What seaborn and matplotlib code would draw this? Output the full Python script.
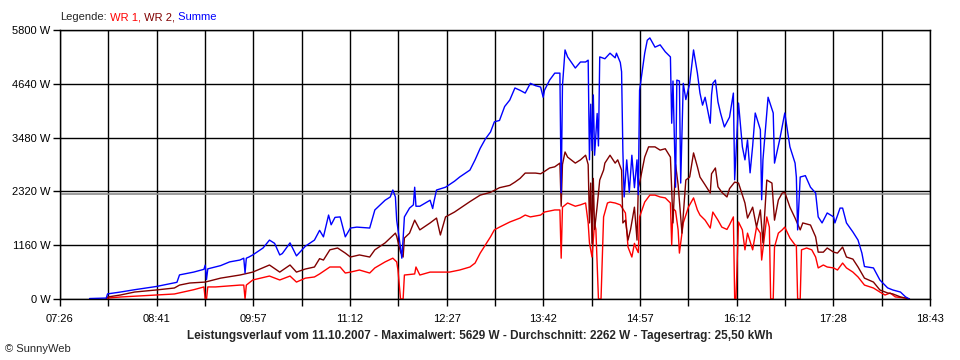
import numpy as np
import pandas as pd
import matplotlib
matplotlib.use("Agg")
import matplotlib.pyplot as plt
import seaborn as sns

# Leistungsverlauf 11.10.2007, Werte (W)
wr1_time = ["08:02", "08:03", "08:13", "08:41", "08:55", "09:10", "09:18", "09:19", "09:20", "09:21",
            "09:27", "09:46", "09:49", "09:50", "09:51", "09:56", "10:09", "10:17", "10:25", "10:30",
            "10:37", "10:44", "10:48", "10:56", "11:04", "11:08", "11:12", "11:19", "11:27", "11:31",
            "11:39", "11:45", "11:48", "11:49", "11:51", "11:53", "11:54", "12:02", "12:03", "12:06",
            "12:14", "12:29", "12:37", "12:45", "12:49", "12:53", "12:57", "13:01", "13:04", "13:08",
            "13:16", "13:24", "13:28", "13:32", "13:40", "13:43", "13:51", "13:55", "13:56", "13:57",
            "14:01", "14:07", "14:11", "14:15", "14:17", "14:18", "14:20", "14:22", "14:23", "14:25",
            "14:27", "14:29", "14:32", "14:34", "14:38", "14:42", "14:46", "14:48", "14:51", "14:53",
            "14:54", "14:56", "14:57", "15:01", "15:05", "15:09", "15:13", "15:17", "15:21", "15:22",
            "15:23", "15:25", "15:27", "15:28", "15:31", "15:35", "15:39", "15:42", "15:44", "15:48",
            "15:52", "15:54", "15:58", "16:01", "16:05", "16:07", "16:10", "16:11", "16:12", "16:14",
            "16:17", "16:19", "16:21", "16:25", "16:28", "16:31", "16:32", "16:36", "16:38", "16:39",
            "16:41", "16:42", "16:45", "16:48", "16:50", "16:54", "16:58", "16:59", "17:00", "17:02",
            "17:03", "17:07", "17:11", "17:14", "17:16", "17:20", "17:23", "17:28", "17:31", "17:35",
            "17:38", "17:43", "17:47", "17:52", "17:59", "18:04", "18:08", "18:12", "18:16", "18:24",
            "18:27"]
wr1_watt = [5, 20, 43, 86, 108, 200, 260, 0, 0, 260,
            260, 300, 300, 0, 300, 410, 495, 410, 495, 365,
            450, 475, 540, 690, 690, 560, 580, 625, 560, 670,
            800, 880, 800, 625, 0, 0, 517, 540, 690, 517,
            580, 580, 625, 690, 775, 990, 1165, 1340, 1490, 1550,
            1660, 1745, 1810, 1770, 1810, 1875, 1920, 1920, 880, 1980,
            2070, 2000, 2030, 2070, 1640, 1210, 905, 1640, 1500, 0,
            0, 1770, 2070, 2090, 2070, 2030, 1855, 1120, 905, 1200,
            1120, 1000, 1770, 2090, 2240, 2240, 2200, 2180, 2070, 1165,
            1950, 1900, 1490, 990, 1640, 1980, 2180, 1920, 1810, 1700,
            1530, 1875, 1700, 1550, 1500, 1600, 1770, 0, 0, 1660,
            1490, 1060, 1420, 1060, 1550, 1420, 840, 1770, 1550, 0,
            0, 1120, 1420, 1490, 1550, 1315, 1165, 1150, 0, 0,
            1060, 1100, 1060, 905, 670, 733, 690, 670, 625, 775,
            670, 580, 475, 300, 237, 150, 86, 130, 45, 20,
            0]

wr2_time = ["08:02", "08:03", "08:13", "08:24", "08:41", "08:55", "08:59", "09:07", "09:19", "09:31",
            "09:46", "09:56", "10:09", "10:17", "10:25", "10:30", "10:37", "10:44", "10:48", "10:51",
            "10:56", "11:02", "11:08", "11:12", "11:19", "11:27", "11:31", "11:39", "11:43", "11:47",
            "11:48", "11:51", "11:53", "11:54", "11:58", "12:02", "12:06", "12:14", "12:19", "12:22",
            "12:26", "12:33", "12:45", "12:53", "13:01", "13:08", "13:16", "13:20", "13:24", "13:28",
            "13:36", "13:40", "13:43", "13:47", "13:51", "13:55", "13:56", "13:57", "13:59", "14:01",
            "14:07", "14:11", "14:15", "14:17", "14:18", "14:19", "14:20", "14:21", "14:22", "14:24",
            "14:26", "14:29", "14:30", "14:34", "14:38", "14:40", "14:43", "14:44", "14:46", "14:48",
            "14:50", "14:53", "14:55", "14:56", "14:57", "15:01", "15:04", "15:09", "15:13", "15:17",
            "15:21", "15:23", "15:25", "15:27", "15:30", "15:33", "15:36", "15:39", "15:42", "15:44",
            "15:48", "15:52", "15:53", "15:56", "15:58", "16:01", "16:05", "16:07", "16:11", "16:14",
            "16:17", "16:19", "16:21", "16:25", "16:28", "16:31", "16:33", "16:36", "16:40", "16:42",
            "16:45", "16:48", "16:50", "16:54", "16:58", "17:02", "17:04", "17:10", "17:14", "17:16",
            "17:20", "17:23", "17:28", "17:31", "17:35", "17:38", "17:43", "17:47", "17:52", "17:59",
            "18:04", "18:10", "18:14", "18:20", "18:24", "18:27"]
wr2_watt = [10, 43, 86, 150, 195, 237, 300, 345, 365, 450,
            517, 580, 733, 580, 733, 580, 647, 690, 870, 840,
            1060, 1100, 990, 905, 950, 905, 1060, 1210, 1315, 1420,
            1350, 1010, 905, 1315, 1420, 1700, 1490, 1640, 1745, 1380,
            1770, 1875, 2100, 2240, 2300, 2400, 2450, 2520, 2600, 2715,
            2715, 2700, 2750, 2825, 2850, 2930, 2000, 2900, 3170, 3060,
            2930, 3000, 3100, 2900, 1640, 2500, 1200, 2600, 1500, 2000,
            2565, 2780, 2930, 3100, 2930, 3000, 2780, 1640, 1700, 1270,
            1500, 1980, 1270, 2400, 2500, 3060, 3280, 3280, 3210, 3240,
            3060, 1640, 2900, 2460, 1420, 2565, 2630, 3150, 2850, 2630,
            2460, 2285, 2700, 2825, 2420, 2300, 2200, 2380, 2520, 2500,
            2240, 2070, 1745, 1980, 1550, 1920, 1210, 2565, 2500, 1700,
            2135, 2285, 2300, 1980, 1745, 1490, 1640, 1595, 1340, 1010,
            1010, 1100, 1010, 990, 1120, 905, 860, 690, 450, 365,
            195, 130, 110, 45, 20, 0]

sum_time = ["07:49", "08:02", "08:03", "08:13", "08:24", "08:41", "08:54", "08:57", "08:59", "09:10",
            "09:18", "09:19", "09:20", "09:21", "09:31", "09:38", "09:46", "09:49", "09:50", "09:51",
            "09:53", "09:56", "10:04", "10:09", "10:13", "10:17", "10:19", "10:25", "10:30", "10:37",
            "10:44", "10:48", "10:51", "10:55", "10:57", "11:00", "11:04", "11:08", "11:12", "11:17",
            "11:27", "11:31", "11:39", "11:43", "11:45", "11:47", "11:48", "11:51", "11:52", "11:53",
            "11:54", "11:58", "12:01", "12:02", "12:03", "12:06", "12:14", "12:16", "12:17", "12:19",
            "12:26", "12:33", "12:37", "12:45", "12:49", "12:53", "12:57", "13:01", "13:04", "13:08",
            "13:12", "13:16", "13:20", "13:24", "13:28", "13:32", "13:36", "13:40", "13:42", "13:43",
            "13:47", "13:51", "13:55", "13:56", "13:57", "13:59", "14:01", "14:07", "14:11", "14:15",
            "14:17", "14:18", "14:19", "14:20", "14:21", "14:22", "14:24", "14:25", "14:26", "14:30",
            "14:34", "14:38", "14:39", "14:42", "14:43", "14:44", "14:45", "14:47", "14:49", "14:51",
            "14:53", "14:55", "14:56", "14:57", "15:01", "15:03", "15:05", "15:09", "15:13", "15:17",
            "15:21", "15:22", "15:23", "15:25", "15:26", "15:28", "15:29", "15:31", "15:33", "15:36",
            "15:39", "15:42", "15:44", "15:46", "15:48", "15:52", "15:53", "15:54", "15:56", "15:58",
            "16:00", "16:03", "16:07", "16:10", "16:11", "16:14", "16:17", "16:19", "16:21", "16:23",
            "16:25", "16:27", "16:31", "16:32", "16:33", "16:37", "16:41", "16:42", "16:46", "16:50",
            "16:54", "16:58", "16:59", "17:00", "17:02", "17:06", "17:10", "17:14", "17:16", "17:19",
            "17:23", "17:28", "17:29", "17:33", "17:35", "17:38", "17:43", "17:47", "17:50", "17:52",
            "17:59", "18:04", "18:10", "18:14", "18:20", "18:24", "18:27"]
sum_watt = [10, 20, 110, 150, 200, 270, 345, 360, 520, 580,
            640, 730, 420, 650, 720, 800, 840, 880, 560, 880,
            905, 950, 1100, 1270, 1200, 950, 980, 1210, 930, 1140,
            1270, 1480, 1340, 1810, 1600, 1760, 1770, 1340, 1530, 1550,
            1530, 1920, 2130, 2200, 2350, 2200, 1700, 1100, 880, 1300,
            1770, 1960, 2030, 2410, 2000, 2000, 2130, 1950, 2100, 2350,
            2410, 2540, 2630, 2780, 3000, 3250, 3450, 3600, 3820, 3850,
            4150, 4290, 4550, 4500, 4440, 4650, 4600, 4570, 4350, 4500,
            4720, 4870, 4870, 2290, 4600, 5370, 5220, 4980, 5110, 5110,
            5150, 3000, 4200, 3200, 4400, 3100, 4000, 3300, 5220, 5180,
            5300, 5200, 5300, 5100, 4900, 3200, 2200, 3000, 2300, 3100,
            2400, 3000, 2250, 4500, 5300, 5580, 5629, 5430, 5480, 5330,
            5220, 3790, 4700, 2410, 4720, 4700, 2500, 4650, 4300, 4650,
            5370, 4870, 4440, 4180, 4350, 3790, 4400, 4650, 4720, 4250,
            4010, 3710, 3920, 4440, 2570, 4225, 3280, 3000, 3430, 2720,
            3300, 4010, 3650, 2140, 3000, 4350, 4010, 2930, 3430, 4010,
            3280, 2930, 2630, 1490, 2630, 2660, 2410, 2285, 1770, 1640,
            1855, 1770, 1640, 1960, 1960, 1640, 1445, 1270, 990, 700,
            670, 410, 240, 195, 150, 45, 0]

x_labels = ["07:26", "08:41", "09:57", "11:12", "12:27", "13:42", "14:57", "16:12", "17:28", "18:43"]
y_ticks = [0, 1160, 2320, 3480, 4640, 5800]
average_w = 2262
title = ("Leistungsverlauf vom 11.10.2007 - Maximalwert: 5629 W - Durchschnitt: 2262 W"
         " - Tagesertrag: 25,50 kWh")

start = 7 * 60 + 26
span = 18 * 60 + 43 - start


def to_min(times):
    return [int(t[:2]) * 60 + int(t[3:]) - start for t in times]


df = pd.concat([
    pd.DataFrame({"min": to_min(wr1_time), "watt": wr1_watt, "serie": "WR 1"}),
    pd.DataFrame({"min": to_min(wr2_time), "watt": wr2_watt, "serie": "WR 2"}),
    pd.DataFrame({"min": to_min(sum_time), "watt": sum_watt, "serie": "Summe"}),
])

sns.set_style("white")
plt.rcParams["font.family"] = ["Liberation Sans", "DejaVu Sans"]

fig = plt.figure(figsize=(9.6, 3.6), dpi=100)
ax = fig.add_axes([60 / 960, 61 / 360, 870 / 960, 269 / 360])

colors = {"WR 1": "#ff0000", "WR 2": "#800000", "Summe": "#0000ff"}
sns.lineplot(data=df, x="min", y="watt", hue="serie", hue_order=["WR 1", "WR 2", "Summe"],
             palette=colors, estimator=None, sort=False, legend=False, linewidth=1.0, ax=ax)

ax.axhline(average_w, color="#8c8c8c", linewidth=1.2, zorder=1.5)

ax.set_xlim(0, span)
ax.set_ylim(0, 5800)
xt = np.linspace(0, span, 19)
ax.set_xticks(xt)
ax.set_xticklabels([x_labels[i // 2] if i % 2 == 0 else "" for i in range(19)])
ax.set_yticks(y_ticks)
ax.set_yticklabels([f"{v} W" for v in y_ticks])
ax.set_xlabel("")
ax.set_ylabel("")
ax.grid(True, color="black", linewidth=1.0)
ax.set_axisbelow(True)
for s in ax.spines.values():
    s.set_color("black")
    s.set_linewidth(1.0)
ax.tick_params(bottom=True, left=True, direction="out", length=5, width=1.0,
               color="black", labelsize=8, labelcolor="black")
ax.tick_params(axis="x", pad=6)
ax.tick_params(axis="y", pad=2)

fig.text(0.5, (360 - 336) / 360, title, ha="center", va="center", fontsize=8.5, fontweight="bold")
fig.text(5 / 960, (360 - 349) / 360, "© SunnyWeb", ha="left", va="center", fontsize=8)

# legend as coloured text pieces, each placed right after the previous one
prev = fig.text(60 / 960, (360 - 17) / 360, "Legende:", ha="left", va="center", fontsize=8)
for part, c in [(" WR 1,", colors["WR 1"]), (" WR 2,", colors["WR 2"]), (" Summe", colors["Summe"])]:
    prev = ax.annotate(part, xy=(1, 0), xycoords=prev, ha="left", va="bottom",
                       fontsize=8, color=c, annotation_clip=False)

fig.savefig("out.png", dpi=100)
